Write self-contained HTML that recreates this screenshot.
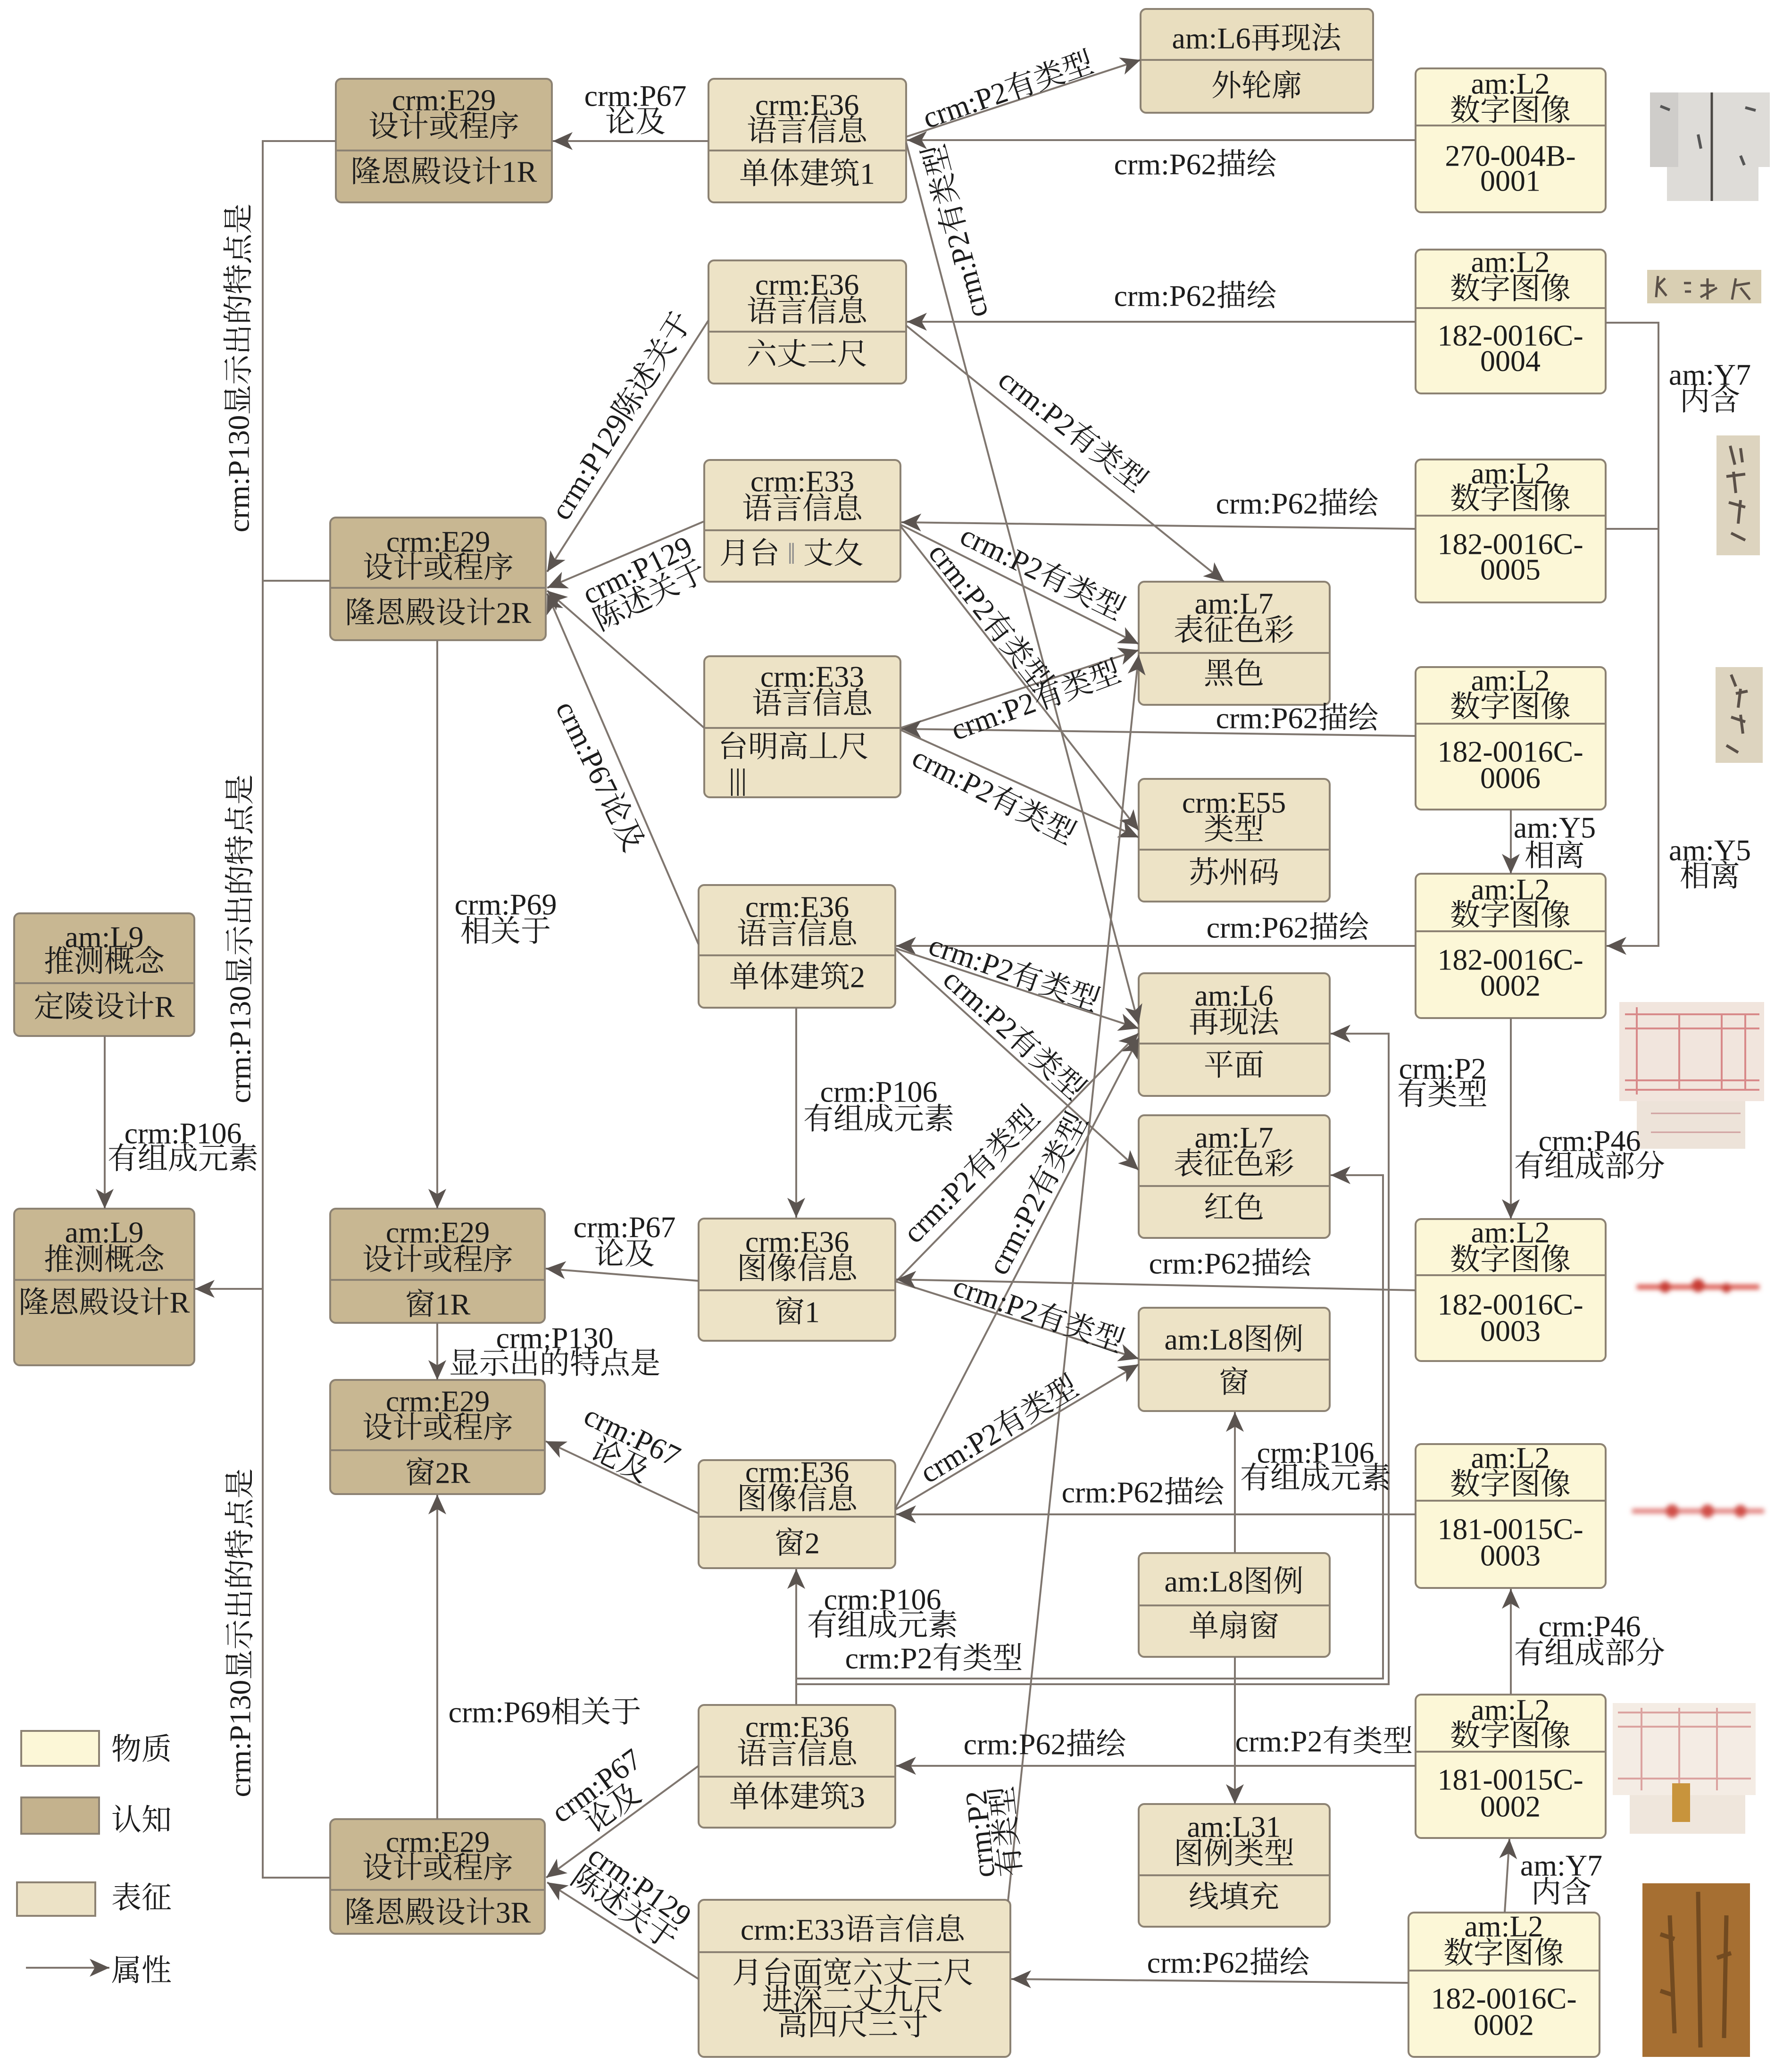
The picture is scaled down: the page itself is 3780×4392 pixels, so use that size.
<!DOCTYPE html>
<html><head><meta charset="utf-8">
<style>
html,body{margin:0;padding:0;background:#fff;}
svg{display:block;}
text{font-family:"Liberation Serif","Noto Serif CJK SC",serif;font-size:64px;fill:#1c1c1c;text-anchor:middle;dominant-baseline:central;}
text.l{text-anchor:start;}
</style></head><body>
<svg width="3780" height="4392" viewBox="0 0 3780 4392" xmlns="http://www.w3.org/2000/svg">
<defs>
<marker id="a" viewBox="-46 -24 50 48" refX="0" refY="0" markerWidth="50" markerHeight="48" orient="auto" markerUnits="userSpaceOnUse"><path d="M0,0 L-42,-19 L-31,0 L-42,19 Z" fill="#5b5450"/></marker>
<filter id="bl" x="-20%" y="-100%" width="140%" height="300%"><feGaussianBlur stdDeviation="5"/></filter>
</defs>
<rect width="3780" height="4392" fill="#fff"/>

<!-- NODES -->
<g stroke="#8c8273" stroke-width="4">
<rect x="712" y="167" width="458" height="262" rx="12" fill="#C8B792"/><line x1="712" y1="319" x2="1170" y2="319"/>
<rect x="1502" y="167" width="419" height="262" rx="12" fill="#EDE3C6"/><line x1="1502" y1="319" x2="1921" y2="319"/>
<rect x="2418" y="19" width="493" height="220" rx="12" fill="#E9DEBF"/><line x1="2418" y1="127" x2="2911" y2="127"/>
<rect x="3001" y="145" width="403" height="305" rx="12" fill="#FCF7D7"/><line x1="3001" y1="266" x2="3404" y2="266"/>
<rect x="1502" y="552" width="419" height="261" rx="12" fill="#EDE3C6"/><line x1="1502" y1="703" x2="1921" y2="703"/>
<rect x="3001" y="529" width="403" height="305" rx="12" fill="#FCF7D7"/><line x1="3001" y1="653" x2="3404" y2="653"/>
<rect x="1493" y="975" width="416" height="258" rx="12" fill="#EDE3C6"/><line x1="1493" y1="1124" x2="1909" y2="1124"/>
<rect x="3001" y="974" width="403" height="303" rx="12" fill="#FCF7D7"/><line x1="3001" y1="1093" x2="3404" y2="1093"/>
<rect x="700" y="1097" width="457" height="260" rx="12" fill="#C8B792"/><line x1="700" y1="1246" x2="1157" y2="1246"/>
<rect x="2414" y="1233" width="405" height="261" rx="12" fill="#EDE3C6"/><line x1="2414" y1="1384" x2="2819" y2="1384"/>
<rect x="1493" y="1391" width="416" height="299" rx="12" fill="#EDE3C6"/><line x1="1493" y1="1543" x2="1909" y2="1543"/>
<rect x="3001" y="1414" width="403" height="302" rx="12" fill="#FCF7D7"/><line x1="3001" y1="1534" x2="3404" y2="1534"/>
<rect x="2414" y="1651" width="405" height="260" rx="12" fill="#EDE3C6"/><line x1="2414" y1="1801" x2="2819" y2="1801"/>
<rect x="30" y="1936" width="382" height="260" rx="12" fill="#C8B792"/><line x1="30" y1="2084" x2="412" y2="2084"/>
<rect x="1481" y="1876" width="417" height="260" rx="12" fill="#EDE3C6"/><line x1="1481" y1="2025" x2="1898" y2="2025"/>
<rect x="3001" y="1852" width="403" height="306" rx="12" fill="#FCF7D7"/><line x1="3001" y1="1974" x2="3404" y2="1974"/>
<rect x="2414" y="2063" width="405" height="260" rx="12" fill="#EDE3C6"/><line x1="2414" y1="2212" x2="2819" y2="2212"/>
<rect x="2414" y="2364" width="405" height="260" rx="12" fill="#EDE3C6"/><line x1="2414" y1="2514" x2="2819" y2="2514"/>
<rect x="30" y="2562" width="382" height="332" rx="12" fill="#C8B792"/><line x1="30" y1="2713" x2="412" y2="2713"/>
<rect x="700" y="2562" width="455" height="242" rx="12" fill="#C8B792"/><line x1="700" y1="2713" x2="1155" y2="2713"/>
<rect x="1481" y="2583" width="417" height="259" rx="12" fill="#EDE3C6"/><line x1="1481" y1="2735" x2="1898" y2="2735"/>
<rect x="2414" y="2772" width="405" height="219" rx="12" fill="#EDE3C6"/><line x1="2414" y1="2882" x2="2819" y2="2882"/>
<rect x="3001" y="2584" width="403" height="301" rx="12" fill="#FCF7D7"/><line x1="3001" y1="2703" x2="3404" y2="2703"/>
<rect x="700" y="2925" width="455" height="242" rx="12" fill="#C8B792"/><line x1="700" y1="3074" x2="1155" y2="3074"/>
<rect x="1481" y="3095" width="417" height="229" rx="12" fill="#EDE3C6"/><line x1="1481" y1="3215" x2="1898" y2="3215"/>
<rect x="3001" y="3061" width="403" height="305" rx="12" fill="#FCF7D7"/><line x1="3001" y1="3181" x2="3404" y2="3181"/>
<rect x="2414" y="3292" width="405" height="220" rx="12" fill="#EDE3C6"/><line x1="2414" y1="3403" x2="2819" y2="3403"/>
<rect x="1481" y="3614" width="417" height="260" rx="12" fill="#EDE3C6"/><line x1="1481" y1="3766" x2="1898" y2="3766"/>
<rect x="3001" y="3592" width="403" height="304" rx="12" fill="#FCF7D7"/><line x1="3001" y1="3713" x2="3404" y2="3713"/>
<rect x="2414" y="3824" width="405" height="260" rx="12" fill="#EDE3C6"/><line x1="2414" y1="3975" x2="2819" y2="3975"/>
<rect x="700" y="3856" width="455" height="243" rx="12" fill="#C8B792"/><line x1="700" y1="4006" x2="1155" y2="4006"/>
<rect x="1481" y="4027" width="661" height="333" rx="12" fill="#EDE3C6"/><line x1="1481" y1="4138" x2="2142" y2="4138"/>
<rect x="2986" y="4054" width="405" height="306" rx="12" fill="#FCF7D7"/><line x1="2986" y1="4177" x2="3391" y2="4177"/>
<!-- legend boxes -->
<rect x="45" y="3669" width="165" height="74" fill="#FCF7D7"/>
<rect x="45" y="3810" width="165" height="77" fill="#C4B28D"/>
<rect x="36" y="3990" width="166" height="71" fill="#ECE2C6"/>
</g>

<!-- EDGES -->
<g stroke="#7f766f" stroke-width="4" fill="none">
<polyline points="712,299 557,299 557,3980 700,3980"/>
<line x1="700" y1="1231" x2="557" y2="1231"/>
<line x1="3404" y1="1121" x2="3516" y2="1121"/>
</g>
<g stroke="#7f766f" stroke-width="4" fill="none" marker-end="url(#a)">
<line x1="1502" y1="299" x2="1172" y2="299"/>
<line x1="1921" y1="290" x2="2418" y2="127"/>
<line x1="3001" y1="297" x2="1923" y2="297"/>
<line x1="1921" y1="302" x2="2414" y2="2172"/>
<line x1="3001" y1="682" x2="1923" y2="682"/>
<line x1="1921" y1="690" x2="2595" y2="1233"/>
<line x1="1502" y1="679" x2="1160" y2="1212"/>
<line x1="1493" y1="1105" x2="1160" y2="1246"/>
<line x1="1493" y1="1543" x2="1160" y2="1252"/>
<line x1="1481" y1="2002" x2="1160" y2="1258"/>
<line x1="927" y1="1357" x2="927" y2="2562"/>
<line x1="557" y1="2732" x2="413" y2="2732"/>
<line x1="222" y1="2196" x2="222" y2="2562"/>
<line x1="1481" y1="2715" x2="1157" y2="2689"/>
<line x1="927" y1="2804" x2="927" y2="2925"/>
<line x1="1481" y1="3208" x2="1157" y2="3055"/>
<line x1="927" y1="3856" x2="927" y2="3168"/>
<line x1="1481" y1="3743" x2="1158" y2="3980"/>
<line x1="1481" y1="4195" x2="1160" y2="3990"/>
<line x1="3001" y1="1121" x2="1911" y2="1107"/>
<line x1="1909" y1="1112" x2="2414" y2="1365"/>
<line x1="1909" y1="1115" x2="2414" y2="1760"/>
<line x1="1909" y1="1543" x2="2414" y2="1378"/>
<line x1="1909" y1="1547" x2="2414" y2="1775"/>
<line x1="3001" y1="1560" x2="1911" y2="1545"/>
<line x1="3001" y1="2005" x2="1900" y2="2005"/>
<line x1="1898" y1="2010" x2="2414" y2="2180"/>
<line x1="1898" y1="2012" x2="2414" y2="2480"/>
<line x1="1898" y1="2718" x2="2414" y2="2190"/>
<line x1="1898" y1="3198" x2="2414" y2="2200"/>
<line x1="1898" y1="2716" x2="2414" y2="2880"/>
<line x1="1898" y1="3200" x2="2414" y2="2892"/>
<line x1="3001" y1="2735" x2="1900" y2="2712"/>
<line x1="3001" y1="3210" x2="1900" y2="3210"/>
<line x1="2618" y1="3292" x2="2618" y2="2993"/>
<line x1="2618" y1="3512" x2="2618" y2="3824"/>
<line x1="3001" y1="3743" x2="1900" y2="3743"/>
<line x1="2986" y1="4203" x2="2144" y2="4195"/>
<line x1="2137" y1="4030" x2="2414" y2="1388"/>
<polyline points="3404,684 3516,684 3516,2005 3406,2005"/>
<line x1="3203" y1="1716" x2="3203" y2="1852"/>
<line x1="3203" y1="2158" x2="3203" y2="2584"/>
<line x1="3203" y1="3592" x2="3203" y2="3368"/>
<line x1="3190" y1="4054" x2="3200" y2="3898"/>
<polyline points="1688,3570 2944,3570 2944,2191 2821,2191"/>
<polyline points="1688,3558 2932,3558 2932,2491 2821,2491"/>
<line x1="1688" y1="3614" x2="1688" y2="3326"/>
<line x1="1688" y1="2136" x2="1688" y2="2581"/>
<line x1="55" y1="4171" x2="232" y2="4171"/>
</g>

<!-- THUMBNAILS -->
<g>
<polygon points="3498,196 3752,196 3752,354 3728,354 3728,426 3534,426 3534,354 3498,354" fill="#dedcd8"/>
<rect x="3498" y="196" width="60" height="158" fill="#cfcdca"/>
<line x1="3629" y1="196" x2="3629" y2="426" stroke="#4a4744" stroke-width="5"/>
<path d="M3520 225 l20 8 M3700 228 l22 6 M3600 285 l6 30 M3690 330 l8 20" stroke="#555" stroke-width="6"/>
<rect x="3492" y="572" width="242" height="71" fill="#d9cfb3"/>
<path d="M3515 585 l-4 45 M3515 605 l15 -15 M3515 605 l18 22 M3570 600 l15 0 M3572 618 l13 0 M3620 590 l0 45 M3605 605 l30 0 M3605 630 l35 -20 M3680 590 l-8 45 M3680 605 l30 -5 M3690 610 l20 25" stroke="#5a5048" stroke-width="5" fill="none"/>
<rect x="3639" y="923" width="92" height="254" fill="#ddd4bf"/>
<path d="M3668 945 l10 40 M3690 950 l4 30 M3660 1010 l40 -5 M3675 1000 l5 45 M3665 1065 l35 10 M3690 1060 l-5 50 M3670 1130 l30 15" stroke="#5a5048" stroke-width="6" fill="none"/>
<rect x="3637" y="1414" width="100" height="203" fill="#ddd4bf"/>
<path d="M3670 1430 l10 25 M3680 1470 l25 -5 M3690 1460 l-5 40 M3670 1520 l30 10 M3690 1515 l5 40 M3660 1580 l25 15" stroke="#5a5048" stroke-width="6" fill="none"/>
<rect x="3433" y="2124" width="307" height="210" fill="#f1e5dd"/>
<rect x="3470" y="2334" width="230" height="101" fill="#ede3d9"/>
<path d="M3445 2150 H3730 M3445 2180 H3730 M3445 2290 H3730 M3445 2310 H3730 M3470 2135 V2320 M3560 2150 V2310 M3650 2150 V2310 M3700 2150 V2310" stroke="#d88a8a" stroke-width="4" fill="none"/>
<path d="M3500 2360 H3690 M3500 2400 H3690" stroke="#d0a0a0" stroke-width="3"/>
<g filter="url(#bl)"><line x1="3470" y1="2728" x2="3730" y2="2728" stroke="#d9524a" stroke-width="10"/><circle cx="3530" cy="2728" r="12" fill="#c83c35"/><circle cx="3600" cy="2725" r="14" fill="#c83c35"/><circle cx="3660" cy="2730" r="10" fill="#c83c35"/></g>
<g filter="url(#bl)"><line x1="3460" y1="3203" x2="3740" y2="3203" stroke="#e07c78" stroke-width="10"/><circle cx="3545" cy="3203" r="14" fill="#d05048"/><circle cx="3620" cy="3203" r="14" fill="#d05048"/><circle cx="3690" cy="3203" r="13" fill="#d05048"/></g>
<rect x="3419" y="3610" width="303" height="195" fill="#f4ece4"/>
<rect x="3455" y="3805" width="245" height="82" fill="#efe6dc"/>
<path d="M3430 3630 H3712 M3430 3660 H3712 M3430 3770 H3712 M3480 3620 V3795 M3560 3620 V3795 M3640 3620 V3795" stroke="#dba3a0" stroke-width="4" fill="none"/>
<rect x="3545" y="3780" width="38" height="82" fill="#c8943c"/>
<rect x="3482" y="3992" width="228" height="368" fill="#a66f32"/>
<path d="M3600 4010 l5 330 M3540 4060 l10 250 M3660 4060 l-5 260 M3520 4100 l30 10 M3640 4150 l30 -10 M3520 4220 l30 10" stroke="#5c3a18" stroke-width="9" fill="none" opacity="0.7"/>
</g>

<!-- NODE TEXT -->
<g>
<text x="941" y="212">crm:E29</text><text x="941" y="268">设计或程序</text><text x="941" y="364">隆恩殿设计1R</text>
<text x="1711" y="222">crm:E36</text><text x="1711" y="277">语言信息</text><text x="1711" y="368">单体建筑1</text>
<text x="2664" y="81">am:L6再现法</text><text x="2664" y="182">外轮廓</text>
<text x="3202" y="177">am:L2</text><text x="3202" y="234">数字图像</text><text x="3202" y="330">270-004B-</text><text x="3202" y="383">0001</text>
<text x="1711" y="603">crm:E36</text><text x="1711" y="660">语言信息</text><text x="1711" y="751">六丈二尺</text>
<text x="3202" y="555">am:L2</text><text x="3202" y="612">数字图像</text><text x="3202" y="711">182-0016C-</text><text x="3202" y="765">0004</text>
<text x="1701" y="1020">crm:E33</text><text x="1701" y="1078">语言信息</text><text class="l" x="1525" y="1173">月台 <tspan fill="#8a8a8a">‖</tspan> 丈夂</text>
<text x="3202" y="1003">am:L2</text><text x="3202" y="1057">数字图像</text><text x="3202" y="1153">182-0016C-</text><text x="3202" y="1207">0005</text>
<text x="929" y="1148">crm:E29</text><text x="929" y="1203">设计或程序</text><text x="929" y="1299">隆恩殿设计2R</text>
<text x="2616" y="1279">am:L7</text><text x="2616" y="1336">表征色彩</text><text x="2616" y="1428">黑色</text>
<text x="1722" y="1434">crm:E33</text><text x="1722" y="1491">语言信息</text><text class="l" x="1522" y="1583">台明高丄尺</text><text class="l" x="1545" y="1652" fill="#7a7a7a">|||</text>
<text x="3202" y="1442">am:L2</text><text x="3202" y="1498">数字图像</text><text x="3202" y="1593">182-0016C-</text><text x="3202" y="1649">0006</text>
<text x="2616" y="1701">crm:E55</text><text x="2616" y="1758">类型</text><text x="2616" y="1850">苏州码</text>
<text x="221" y="1986">am:L9</text><text x="221" y="2038">推测概念</text><text x="221" y="2134">定陵设计R</text>
<text x="1690" y="1922">crm:E36</text><text x="1690" y="1979">语言信息</text><text x="1690" y="2071">单体建筑2</text>
<text x="3202" y="1885">am:L2</text><text x="3202" y="1940">数字图像</text><text x="3202" y="2034">182-0016C-</text><text x="3202" y="2089">0002</text>
<text x="2616" y="2110">am:L6</text><text x="2616" y="2167">再现法</text><text x="2616" y="2258">平面</text>
<text x="2616" y="2411">am:L7</text><text x="2616" y="2467">表征色彩</text><text x="2616" y="2560">红色</text>
<text x="221" y="2612">am:L9</text><text x="221" y="2670">推测概念</text><text x="221" y="2761">隆恩殿设计R</text>
<text x="928" y="2612">crm:E29</text><text x="928" y="2670">设计或程序</text><text x="928" y="2765">窗1R</text>
<text x="1690" y="2632">crm:E36</text><text x="1690" y="2689">图像信息</text><text x="1690" y="2781">窗1</text>
<text x="2616" y="2839">am:L8图例</text><text x="2616" y="2930">窗</text>
<text x="3202" y="2612">am:L2</text><text x="3202" y="2670">数字图像</text><text x="3202" y="2765">182-0016C-</text><text x="3202" y="2821">0003</text>
<text x="928" y="2970">crm:E29</text><text x="928" y="3026">设计或程序</text><text x="928" y="3122">窗2R</text>
<text x="1690" y="3120">crm:E36</text><text x="1690" y="3177">图像信息</text><text x="1690" y="3271">窗2</text>
<text x="3202" y="3090">am:L2</text><text x="3202" y="3146">数字图像</text><text x="3202" y="3241">181-0015C-</text><text x="3202" y="3297">0003</text>
<text x="2616" y="3352">am:L8图例</text><text x="2616" y="3447">单扇窗</text>
<text x="1690" y="3660">crm:E36</text><text x="1690" y="3717">语言信息</text><text x="1690" y="3809">单体建筑3</text>
<text x="3202" y="3624">am:L2</text><text x="3202" y="3679">数字图像</text><text x="3202" y="3772">181-0015C-</text><text x="3202" y="3829">0002</text>
<text x="2616" y="3872">am:L31</text><text x="2616" y="3929">图例类型</text><text x="2616" y="4021">线填充</text>
<text x="928" y="3904">crm:E29</text><text x="928" y="3959">设计或程序</text><text x="928" y="4054">隆恩殿设计3R</text>
<text x="1808" y="4090">crm:E33语言信息</text><text x="1808" y="4182">月台面宽六丈二尺</text><text x="1808" y="4239">进深二丈九尺</text><text x="1808" y="4292">高四尺三寸</text>
<text x="3188" y="4083">am:L2</text><text x="3188" y="4140">数字图像</text><text x="3188" y="4236">182-0016C-</text><text x="3188" y="4292">0002</text>
</g>

<!-- EDGE LABELS -->
<g>
<text x="1347" y="203">crm:P67</text><text x="1347" y="258">论及</text>
<text transform="translate(2137,191) rotate(-19)">crm:P2有类型</text>
<text x="2534" y="348">crm:P62描绘</text>
<text transform="translate(2026,490) rotate(-104.7)">crm:P2有类型</text>
<text x="2534" y="627">crm:P62描绘</text>
<text transform="translate(2274,912) rotate(38)">crm:P2有类型</text>
<text transform="translate(1317,881) rotate(-58)">crm:P129陈述关于</text>
<text transform="translate(1364,1235) rotate(-26)"><tspan x="0" y="-30">crm:P129</tspan><tspan x="0" y="30">陈述关于</tspan></text>
<text transform="translate(1272,1645) rotate(64)">crm:P67论及</text>
<text x="1072" y="1917">crm:P69</text><text x="1072" y="1974">相关于</text>
<text x="388" y="2402">crm:P106</text><text x="388" y="2456">有组成元素</text>
<text transform="translate(506,780) rotate(-90)">crm:P130显示出的特点是</text>
<text transform="translate(509,1990) rotate(-90)">crm:P130显示出的特点是</text>
<text transform="translate(509,3461) rotate(-90)">crm:P130显示出的特点是</text>
<text x="1863" y="2314">crm:P106</text><text x="1863" y="2372">有组成元素</text>
<text x="1324" y="2601">crm:P67</text><text x="1324" y="2658">论及</text>
<text x="1176" y="2836">crm:P130</text><text x="1176" y="2890">显示出的特点是</text>
<text transform="translate(1328,3069) rotate(26)"><tspan x="0" y="-29">crm:P67</tspan><tspan x="0" y="29">论及</tspan></text>
<text x="1155" y="3629">crm:P69相关于</text>
<text transform="translate(1281,3808) rotate(-36)"><tspan x="0" y="-29">crm:P67</tspan><tspan x="0" y="29">论及</tspan></text>
<text transform="translate(1340,4020) rotate(35)"><tspan x="0" y="-29">crm:P129</tspan><tspan x="0" y="29">陈述关于</tspan></text>
<text x="2750" y="1067">crm:P62描绘</text>
<text transform="translate(2210,1213) rotate(26)">crm:P2有类型</text>
<text transform="translate(2099,1308) rotate(52)">crm:P2有类型</text>
<text transform="translate(2196,1485) rotate(-20)">crm:P2有类型</text>
<text transform="translate(2107,1686) rotate(27)">crm:P2有类型</text>
<text x="2750" y="1522">crm:P62描绘</text>
<text x="2730" y="1966">crm:P62描绘</text>
<text transform="translate(2150,2062) rotate(19)">crm:P2有类型</text>
<text transform="translate(2150,2192) rotate(42)">crm:P2有类型</text>
<text x="3058" y="2265">crm:P2</text><text x="3058" y="2320">有类型</text>
<text x="3370" y="2418">crm:P46</text><text x="3370" y="2472">有组成部分</text>
<text x="3296" y="1754">am:Y5</text><text x="3296" y="1814">相离</text>
<text x="3625" y="1802">am:Y5</text><text x="3625" y="1857">相离</text>
<text x="3625" y="794">am:Y7</text><text x="3625" y="848">内含</text>
<text transform="translate(2059,2490) rotate(-45)">crm:P2有类型</text>
<text transform="translate(2200,2530) rotate(-62)">crm:P2有类型</text>
<text x="2608" y="2678">crm:P62描绘</text>
<text transform="translate(2202,2785) rotate(19)">crm:P2有类型</text>
<text transform="translate(2118,3030) rotate(-31)">crm:P2有类型</text>
<text x="2423" y="3163">crm:P62描绘</text>
<text x="2789" y="3079">crm:P106</text><text x="2789" y="3133">有组成元素</text>
<text x="1871" y="3390">crm:P106</text><text x="1871" y="3445">有组成元素</text>
<text x="1980" y="3515">crm:P2有类型</text>
<text x="2215" y="3697">crm:P62描绘</text>
<text x="2807" y="3691">crm:P2有类型</text>
<text transform="translate(2105,3885) rotate(-96)"><tspan x="0" y="-28">crm:P2</tspan><tspan x="0" y="28">有类型</tspan></text>
<text x="2604" y="4160">crm:P62描绘</text>
<text x="3370" y="3447">crm:P46</text><text x="3370" y="3504">有组成部分</text>
<text x="3310" y="3954">am:Y7</text><text x="3310" y="4011">内含</text>
</g>

<!-- LEGEND TEXT -->
<g>
<text class="l" x="236" y="3708">物质</text>
<text class="l" x="236" y="3858">认知</text>
<text class="l" x="236" y="4023">表征</text>
<text class="l" x="236" y="4177">属性</text>
</g>
</svg>
</body></html>
